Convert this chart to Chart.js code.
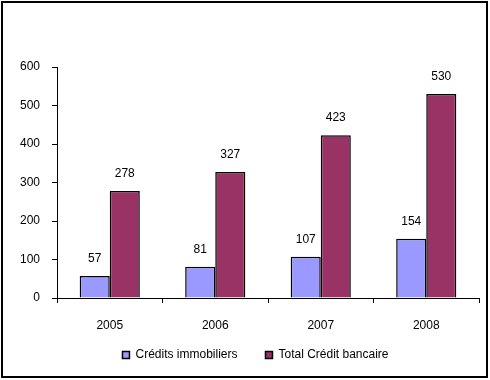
<!DOCTYPE html>
<html lang="fr">
<head>
    <meta charset="UTF-8">
    <title>Crédits</title>
    <script src="https://cdn.jsdelivr.net/npm/chart.js"></script>
    <style>
        body {
            margin: 0;
            padding: 0;
            background-color: white;
        }

        .frame {
            position: absolute;
            left: 0;
            top: 0;
            width: 490px;
            height: 380px;
        }
    </style>
</head>
<body>
<div class="frame">
    <canvas id="chart" width="490" height="380"></canvas>
</div>
<script>
    var years = ['2005', '2006', '2007', '2008'];
    var creditsImmobiliers = [57, 81, 107, 154];
    var totalCredit = [278, 327, 423, 530];
    var yTicks = [0, 100, 200, 300, 400, 500, 600];

    var fontFamily = '"Liberation Sans", Arial, sans-serif';

    // cadre noir autour du graphique
    var framePlugin = {
        id: 'frame',
        afterDraw: function (chart) {
            var ctx = chart.ctx;
            ctx.save();
            ctx.strokeStyle = '#000';
            ctx.lineWidth = 2;
            ctx.strokeRect(2, 2, 485, 375);
            ctx.restore();
        }
    };

    // valeurs au-dessus des barres
    var valuesPlugin = {
        id: 'values',
        afterDatasetsDraw: function (chart) {
            var ctx = chart.ctx;
            ctx.save();
            ctx.font = '12px ' + fontFamily;
            ctx.fillStyle = '#000';
            ctx.textAlign = 'center';
            ctx.textBaseline = 'middle';
            chart.data.datasets.forEach(function (ds, i) {
                chart.getDatasetMeta(i).data.forEach(function (bar, j) {
                    ctx.fillText(ds.data[j], bar.x, bar.y - 17);
                });
            });
            ctx.restore();
        }
    };

    // hauteur fixe pour la légende, puis on la replace
    var legendPlugin = {
        id: 'legendFit',
        beforeInit: function (chart) {
            var origFit = chart.legend.fit;
            chart.legend.fit = function () {
                origFit.bind(chart.legend)();
                this.height = 42;
            };
        },
        afterLayout: function (chart) {
            chart.legend.left += 16;
            chart.legend.right += 16;
            chart.legend.top = 321;
            chart.legend.bottom = 380;
        }
    };

    new Chart(document.getElementById('chart').getContext('2d'), {
        type: 'bar',
        data: {
            labels: years,
            datasets: [{
                label: 'Crédits immobiliers',
                data: creditsImmobiliers,
                backgroundColor: '#9999FF',
                borderColor: '#000',
                borderWidth: 1.5
            }, {
                label: 'Total Crédit bancaire',
                data: totalCredit,
                backgroundColor: '#993366',
                borderColor: '#000',
                borderWidth: 1.5
            }]
        },
        options: {
            responsive: false,
            animation: false,
            layout: {
                padding: {top: 67, left: 0, right: 11, bottom: 0}
            },
            datasets: {
                bar: {
                    categoryPercentage: 0.57,
                    barPercentage: 1
                }
            },
            plugins: {
                legend: {
                    position: 'bottom',
                    labels: {
                        boxWidth: 7,
                        boxHeight: 7,
                        padding: 28,
                        color: '#000',
                        font: {size: 12, family: fontFamily}
                    }
                },
                tooltip: {enabled: false}
            },
            scales: {
                x: {
                    grid: {
                        drawOnChartArea: false,
                        color: '#000',
                        tickLength: 5,
                        offset: true
                    },
                    border: {color: '#000', width: 1},
                    ticks: {
                        color: '#000',
                        padding: 15,
                        font: {size: 12, family: fontFamily}
                    },
                    afterFit: function (scale) {
                        scale.height = 40;
                    }
                },
                y: {
                    min: 0,
                    max: 600,
                    afterBuildTicks: function (scale) {
                        scale.ticks = yTicks.map(function (v) { return {value: v}; });
                    },
                    grid: {
                        drawOnChartArea: false,
                        color: '#000',
                        tickLength: 5
                    },
                    border: {color: '#000', width: 1},
                    ticks: {
                        color: '#000',
                        padding: 12,
                        font: {size: 12, family: fontFamily}
                    },
                    afterFit: function (scale) {
                        scale.width = 57;
                    }
                }
            }
        },
        plugins: [framePlugin, valuesPlugin, legendPlugin]
    });
</script>
</body>
</html>
